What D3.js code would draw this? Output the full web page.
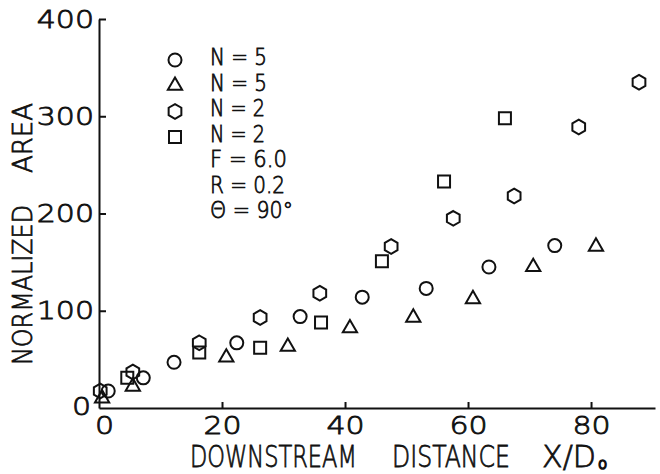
<!DOCTYPE html>
<html>
<head>
<meta charset="utf-8">
<script src="https://cdn.jsdelivr.net/npm/d3@7"></script>
<style>
  body { margin: 0; background: #fff; }
  text { font-family: "DejaVu Sans", sans-serif; font-weight: 200; fill: #111; stroke: #111; stroke-width: 0.8px; }
</style>
</head>
<body>
<div id="chart"></div>
<script>
(function(){

    var width = 660;
    var height = 474;
    var margin = {top: 19, right: 5, bottom: 66, left: 99};

    // N = 5, open circles
    var circleX = [1.5, 7.2, 12.2, 22.4, 32.7, 42.8, 53.2, 63.4, 74.1];
    var circleY = [17.5, 31, 47, 67, 94, 114, 123, 145, 167];
    // N = 5, open triangles
    var triX = [0.5, 5.5, 20.7, 30.7, 40.8, 51.1, 60.8, 70.6, 80.8];
    var triY = [10, 22, 52, 63, 82, 93, 112, 145, 166];
    // N = 2, open hexagons
    var hexX = [0.2, 5.5, 16.3, 26.2, 35.9, 47.5, 57.6, 67.5, 78, 87.8];
    var hexY = [17.5, 37, 67, 93, 118, 166, 195, 218, 289, 335];
    // N = 2, open squares
    var sqX = [4.6, 16.3, 26.2, 36.1, 46, 56.1, 66];
    var sqY = [31, 57, 62, 88, 151, 233, 298];

    var xTicks = [0, 20, 40, 60, 80];
    var yTicks = [0, 100, 200, 300, 400];
    var legendLabels = ["N = 5", "N = 5", "N = 2", "N = 2", "F = 6.0", "R = 0.2", "\u0398 = 90\u00B0"];
    var legendWidths = [57, 57, 55, 55, 77, 75, 83];

    var svg = d3.select("#chart")
        .append("svg")
        .attr("width", width)
        .attr("height", height);

    var x = d3.scaleLinear().domain([0, 90.4]).range([margin.left, width - margin.right]);
    var y = d3.scaleLinear().domain([0, 400]).range([height - margin.bottom, margin.top]);

    // hexagon with vertical sides
    var hexagon = {
        draw: function(ctx, size) {
            var r = Math.sqrt(size / (1.5 * Math.sqrt(3)));
            for (var i = 0; i < 6; i++) {
                var a = (-90 + 60 * i) * Math.PI / 180;
                if (i === 0) ctx.moveTo(r * Math.cos(a), r * Math.sin(a));
                else ctx.lineTo(r * Math.cos(a), r * Math.sin(a));
            }
            ctx.closePath();
        }
    };

    var shapes = {
        circle:   d3.symbol().type(d3.symbolCircle).size(133)(),
        triangle: d3.symbol().type(d3.symbolTriangle).size(88)(),
        hexagon:  d3.symbol().type(hexagon).size(140)(),
        square:   d3.symbol().type(d3.symbolSquare).size(144)()
    };

    var series = [
        {shape: "circle",   xs: circleX, ys: circleY},
        {shape: "triangle", xs: triX,    ys: triY},
        {shape: "hexagon",  xs: hexX,    ys: hexY},
        {shape: "square",   xs: sqX,     ys: sqY}
    ];

    // squeeze/stretch a text horizontally to a given width
    var fitText = function(sel, tx, ty, w, rot) {
        var len = sel.node().getComputedTextLength();
        var t = "translate(" + tx + "," + ty + ")" + (rot ? " rotate(" + rot + ")" : "");
        sel.attr("transform", t + " scale(" + (w / len) + ",1)");
    };

    // axes
    var xAxis = d3.axisBottom(x).tickValues(xTicks).tickSize(-6).tickSizeOuter(0).tickPadding(8);
    var yAxis = d3.axisLeft(y).tickValues(yTicks).tickSize(-7).tickSizeOuter(0).tickPadding(5);

    var gx = svg.append("g")
        .attr("transform", "translate(0," + y(0) + ")")
        .call(xAxis);
    var gy = svg.append("g")
        .attr("transform", "translate(" + x(0) + ",0)")
        .call(yAxis);

    [gx, gy].forEach(function(g) {
        g.select(".domain").attr("stroke", "#111").attr("stroke-width", 2);
        g.selectAll(".tick line").attr("stroke", "#111").attr("stroke-width", 2);
        g.selectAll(".tick text")
            .attr("fill", "#111")
            .style("font-size", "25px")
            .style("font-family", "DejaVu Sans, sans-serif")
            .attr("lengthAdjust", "spacingAndGlyphs")
            .attr("textLength", function() { return this.getComputedTextLength() * 1.2; });
    });
    gx.select(".tick line").remove();
    gx.select(".tick text").attr("x", 5);
    gy.selectAll(".tick").filter(function(d) { return d === 0; }).select("line").remove();
    gy.selectAll(".tick").filter(function(d) { return d === 0; }).select("text").attr("x", -8).attr("dy", "0.25em");

    // markers
    series.forEach(function(s) {
        var pts = s.xs.map(function(v, i) { return {x: v, y: s.ys[i]}; });
        svg.append("g").selectAll("path")
            .data(pts)
            .enter()
            .append("path")
            .attr("d", shapes[s.shape])
            .attr("transform", function(d) { return "translate(" + x(d.x) + "," + y(d.y) + ")"; })
            .attr("fill", "none")
            .attr("stroke", "#111")
            .attr("stroke-width", 2);
    });

    // legend
    var legend = svg.append("g");
    legend.selectAll("path")
        .data(series)
        .enter()
        .append("path")
        .attr("d", function(d) { return shapes[d.shape]; })
        .attr("transform", function(d, i) { return "translate(175," + (60 + i * 25.7) + ")"; })
        .attr("fill", "none")
        .attr("stroke", "#111")
        .attr("stroke-width", 2);
    legend.selectAll("text")
        .data(legendLabels)
        .enter()
        .append("text")
        .style("font-size", "23px")
        .text(function(d) { return d; })
        .each(function(d, i) { fitText(d3.select(this), 210, 65 + i * 25.5, legendWidths[i]); });

    // y axis title
    var yt = [
        {t: "NORMALIZED", c: 285, w: 160},
        {t: "AREA", c: 138, w: 70}
    ];
    yt.forEach(function(d) {
        var el = svg.append("text")
            .attr("text-anchor", "middle")
            .style("font-size", "27px")
            .text(d.t);
        fitText(el, 32, d.c, d.w, -90);
    });

    // x axis title
    var xt = [
        {t: "DOWNSTREAM", x: 190, w: 167},
        {t: "DISTANCE", x: 392, w: 118},
        {t: "X/D", x: 542, w: 54}
    ];
    xt.forEach(function(d) {
        var el = svg.append("text")
            .style("font-size", "31px")
            .text(d.t);
        fitText(el, d.x, 467, d.w);
    });
    svg.append("text")
        .attr("x", 598)
        .attr("y", 469)
        .style("font-size", "15px")
        .style("stroke-width", "1.6px")
        .text("o");

})();
</script>
</body>
</html>
